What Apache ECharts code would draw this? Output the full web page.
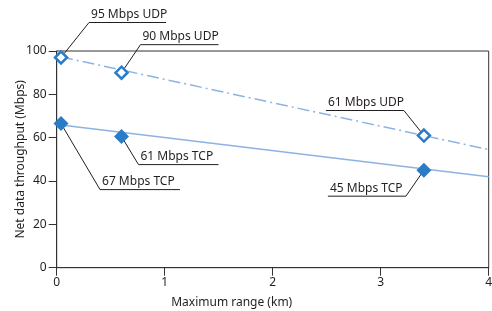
<!DOCTYPE html>
<html><head><meta charset="utf-8">
<script src="https://cdn.jsdelivr.net/npm/echarts@6/dist/echarts.min.js"></script>
<style>html,body{margin:0;padding:0;background:#fff}#c{width:492px;height:311px}</style>
</head><body><div id="c"></div>
<script>
// ---- data ----
const rangeKm = [0.04, 0.6, 3.4];
const udpMbps = [97, 90, 61];
const tcpMbps = [66.5, 60.5, 45];
const udpTrendX = [0.04, 4];
const udpTrendY = [97.3, 54.5];
const tcpTrendX = [0.04, 4];
const tcpTrendY = [65.8, 42];
const udpLabels = ['95 Mbps UDP', '90 Mbps UDP', '61 Mbps UDP'];
const tcpLabels = ['67 Mbps TCP', '61 Mbps TCP', '45 Mbps TCP'];
const yTicks = [0, 20, 40, 60, 80, 100];
const xTicks = [0, 1, 2, 3, 4];

// ---- callout layout (pixel offsets from the point) ----
const calloutLayout = [
  {s: 'udp', i: 0, dx: 28, dy: -35, dir: 1, len: 77},
  {s: 'udp', i: 1, dx: 19, dy: -28, dir: 1, len: 78},
  {s: 'udp', i: 2, dx: -20, dy: -25, dir: -1, len: 78},
  {s: 'tcp', i: 0, dx: 39, dy: 66, dir: 1, len: 80},
  {s: 'tcp', i: 1, dx: 17, dy: 28, dir: 1, len: 80},
  {s: 'tcp', i: 2, dx: -18, dy: 26, dir: -1, len: 78}
];

const TXT = '#231f20';
const FONT = '"Noto Sans", sans-serif';
const MARK = '#2a7cc7';
const TREND = '#8db3e2';

const chart = echarts.init(document.getElementById('c'), null, {renderer: 'canvas'});
const pairs = (xs, ys) => xs.map((x, k) => [x, ys[k]]);

chart.setOption({
  animation: false,
  backgroundColor: '#fff',
  grid: {left: 56.7, right: 3.3, top: 51, bottom: 43.3, show: true, borderColor: '#333', borderWidth: 1,
         containLabel: false, outerBoundsMode: 'none'},
  xAxis: {
    type: 'value', min: xTicks[0], max: xTicks[xTicks.length - 1], interval: 1,
    name: 'Maximum range (km)', nameLocation: 'middle', nameGap: 29, nameMoveOverlap: false,
    nameTextStyle: {color: TXT, fontFamily: FONT, fontSize: 12, padding: [0, 82, 0, 0]},
    axisLine: {show: true, lineStyle: {color: '#333', width: 1}},
    axisTick: {show: true, length: 8, lineStyle: {color: '#333'}},
    axisLabel: {color: TXT, fontFamily: FONT, fontSize: 12, margin: 9},
    splitLine: {show: false}
  },
  yAxis: {
    type: 'value', min: yTicks[0], max: yTicks[yTicks.length - 1], interval: 20,
    name: 'Net data throughput (Mbps)', nameLocation: 'middle', nameGap: 30, nameMoveOverlap: false,
    nameTextStyle: {color: TXT, fontFamily: FONT, fontSize: 12},
    axisLine: {show: true, lineStyle: {color: '#333', width: 1}},
    axisTick: {show: true, length: 8, lineStyle: {color: '#333'}},
    axisLabel: {color: TXT, fontFamily: FONT, fontSize: 12, margin: 10},
    splitLine: {show: false}
  },
  series: [
    {type: 'line', data: pairs(udpTrendX, udpTrendY), symbol: 'none', z: 1,
     lineStyle: {color: TREND, width: 1.5, type: [12, 4, 2, 4]}},
    {type: 'line', data: pairs(tcpTrendX, tcpTrendY), symbol: 'none', z: 1,
     lineStyle: {color: TREND, width: 1.5}},
    {type: 'scatter', name: 'udp', data: pairs(rangeKm, udpMbps), symbol: 'diamond', symbolSize: 12, z: 3,
     itemStyle: {color: '#fff', borderColor: MARK, borderWidth: 2.5, opacity: 1}},
    {type: 'scatter', name: 'tcp', data: pairs(rangeKm, tcpMbps), symbol: 'diamond', symbolSize: 15, z: 3,
     itemStyle: {color: MARK, opacity: 1}}
  ]
});

const graphics = [];
calloutLayout.forEach(c => {
  const ys = c.s === 'udp' ? udpMbps : tcpMbps;
  const txt = c.s === 'udp' ? udpLabels[c.i] : tcpLabels[c.i];
  const p = chart.convertToPixel({gridIndex: 0}, [rangeKm[c.i], ys[c.i]]);
  const ex = p[0] + c.dx, ey = p[1] + c.dy;
  const endX = ex + c.dir * c.len;
  graphics.push({type: 'polyline', z: 0, silent: true,
    shape: {points: [[p[0], p[1]], [ex, ey], [endX, ey]]},
    style: {stroke: TXT, lineWidth: 1, fill: null}});
  const left = Math.min(ex, endX) + 2;
  graphics.push({type: 'text', z: 5, silent: true, x: left, y: ey - 2,
    style: {text: txt, fill: TXT, font: '12px ' + FONT, align: 'left', verticalAlign: 'bottom'}});
});
chart.setOption({graphic: graphics});
</script></body></html>
